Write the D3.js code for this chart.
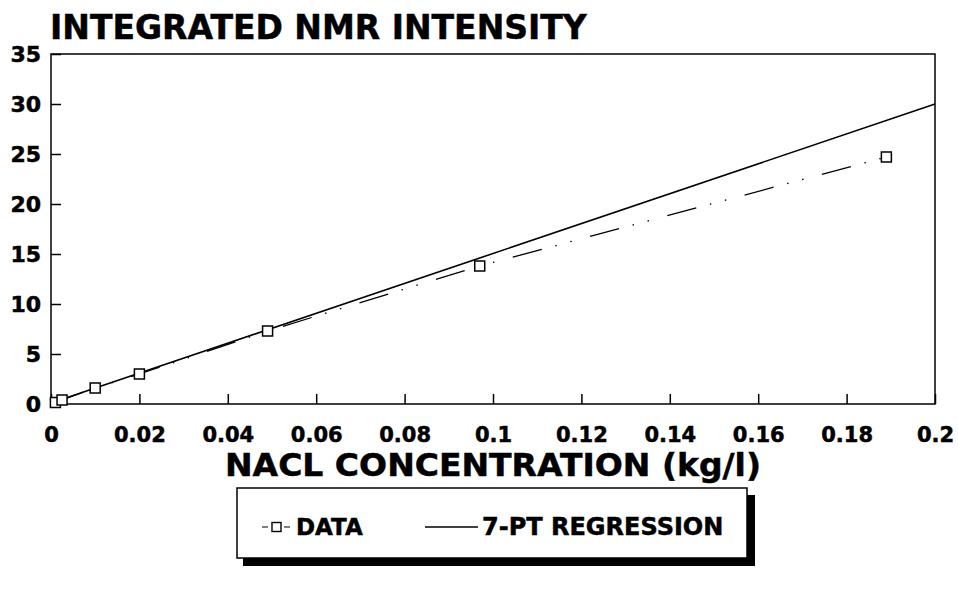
<!DOCTYPE html>
<html lang="en">
<head>
  <meta charset="UTF-8">
  <title>Integrated NMR Intensity</title>
  <script src="https://cdnjs.cloudflare.com/ajax/libs/d3/7.8.5/d3.min.js"></script>
  <style>
    body { margin: 0; padding: 0; background: #fff; }
    svg { display: block; }
    text { font-family: "DejaVu Sans", sans-serif; font-weight: bold; fill: #000; stroke: #000; stroke-width: 0.5; }
  </style>
</head>
<body>
<svg id="chart" width="958" height="593"></svg>
<script>
  // Data
  const concentration = [0.001, 0.0025, 0.01, 0.02, 0.049, 0.097, 0.189];
  const intensity     = [0.15, 0.4, 1.6, 3.0, 7.3, 13.8, 24.7];
  // 7-pt regression line, end points
  const regX = [0, 0.2];
  const regY = [0.1, 30.0];
  const xTicks = [0, 0.02, 0.04, 0.06, 0.08, 0.1, 0.12, 0.14, 0.16, 0.18, 0.2];
  const yTicks = [0, 5, 10, 15, 20, 25, 30, 35];

  const svg = d3.select("#chart");
  const margin = { left: 51, right: 23, top: 54, bottom: 189 };
  const width = 958, height = 593;

  const x = d3.scaleLinear().domain([0, 0.2]).range([margin.left, width - margin.right]);
  const y = d3.scaleLinear().domain([0, 35]).range([height - margin.bottom, margin.top]);

  // title
  svg.append("text")
    .attr("x", 50).attr("y", 39)
    .attr("font-size", 33)
    .text("INTEGRATED NMR INTENSITY");

  // frame
  svg.append("rect")
    .attr("x", x(0)).attr("y", y(35))
    .attr("width", x(0.2) - x(0)).attr("height", y(0) - y(35))
    .attr("fill", "none").attr("stroke", "#000").attr("stroke-width", 1.5);

  // axes with inward ticks
  const yAxis = svg.append("g")
    .attr("transform", `translate(${x(0)},0)`)
    .call(d3.axisLeft(y).tickValues(yTicks).tickSize(-10).tickPadding(10).tickFormat(d3.format("d")));
  yAxis.select(".domain").remove();
  yAxis.selectAll("line").attr("stroke-width", 1.5);
  yAxis.selectAll("text").attr("font-size", 22).attr("font-family", "DejaVu Sans").attr("font-weight", "bold");

  const xAxis = svg.append("g")
    .attr("transform", `translate(0,${y(0)})`)
    .call(d3.axisBottom(x).tickValues(xTicks).tickSize(-10).tickPadding(8).tickFormat(d => d === 0 ? "0" : String(+d.toFixed(2))));
  xAxis.select(".domain").remove();
  xAxis.selectAll("line").attr("stroke-width", 1.5);
  xAxis.selectAll("text").attr("font-size", 21).attr("font-family", "DejaVu Sans").attr("font-weight", "bold")
    .attr("dy", "1.45em");

  // x axis title
  svg.append("text")
    .attr("x", (x(0) + x(0.2)) / 2).attr("y", 476)
    .attr("text-anchor", "middle")
    .attr("font-size", 32)
    .attr("textLength", 536)
    .attr("lengthAdjust", "spacingAndGlyphs")
    .text("NACL CONCENTRATION (kg/l)");

  // data line
  const pts = concentration.map((c, i) => [c, intensity[i]]);
  const line = d3.line().x(d => x(d[0])).y(d => y(d[1]));
  svg.append("path")
    .datum(pts)
    .attr("d", line)
    .attr("fill", "none")
    .attr("stroke", "#000")
    .attr("stroke-width", 1.3)
    .attr("stroke-dasharray", "30,14,1.5,14,1.5,19");

  // regression
  svg.append("path")
    .datum(regX.map((v, i) => [v, regY[i]]))
    .attr("d", line)
    .attr("fill", "none")
    .attr("stroke", "#000")
    .attr("stroke-width", 1.6);

  // markers
  const s = 10;
  svg.append("g").selectAll("rect")
    .data(pts)
    .join("rect")
    .attr("x", d => x(d[0]) - s / 2)
    .attr("y", d => y(d[1]) - s / 2)
    .attr("width", s).attr("height", s)
    .attr("fill", "#fff").attr("stroke", "#000").attr("stroke-width", 1.5);

  // legend
  const lg = svg.append("g").attr("transform", "translate(237,488)");
  const lw = 510, lh = 70;
  lg.append("rect").attr("x", lw).attr("y", 7).attr("width", 8).attr("height", lh + 1).attr("fill", "#000");
  lg.append("rect").attr("x", 6).attr("y", lh).attr("width", lw + 2).attr("height", 8).attr("fill", "#000");
  lg.append("rect").attr("x", 0).attr("y", 0).attr("width", lw).attr("height", lh)
    .attr("fill", "#fff").attr("stroke", "#000").attr("stroke-width", 1.5);

  const ly = 39;
  lg.append("line").attr("x1", 25).attr("x2", 57).attr("y1", ly).attr("y2", ly)
    .attr("stroke", "#000").attr("stroke-width", 1.2).attr("stroke-dasharray", "6,7,2,7,6");
  lg.append("rect").attr("x", 35).attr("y", ly - 4.5).attr("width", 9).attr("height", 9)
    .attr("fill", "#fff").attr("stroke", "#000").attr("stroke-width", 1.4);
  lg.append("text").attr("x", 59).attr("y", ly + 8).attr("font-size", 23).text("DATA");

  lg.append("line").attr("x1", 188).attr("x2", 241).attr("y1", ly).attr("y2", ly)
    .attr("stroke", "#000").attr("stroke-width", 1.4);
  lg.append("text").attr("x", 245).attr("y", ly + 8).attr("font-size", 24).text("7-PT REGRESSION");
</script>
</body>
</html>
